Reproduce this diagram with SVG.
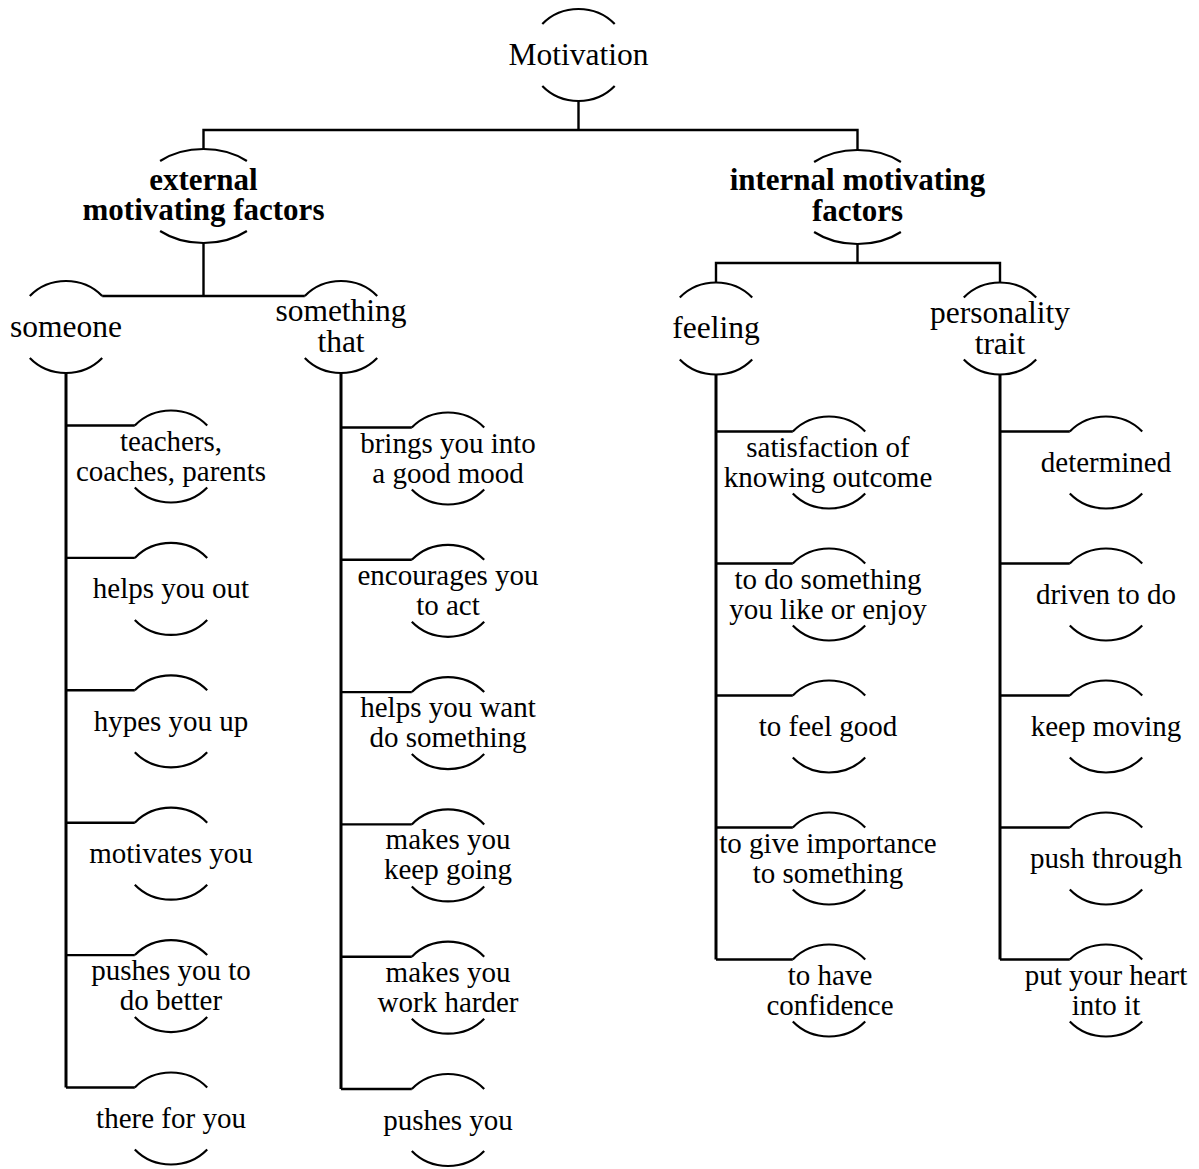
<svg xmlns="http://www.w3.org/2000/svg" width="1199" height="1169" viewBox="0 0 1199 1169">
<style>
.arc{fill:none;stroke:#000;stroke-width:2.2}
.ln{fill:none;stroke:#000;stroke-width:2.4}
.tr{fill:none;stroke:#000;stroke-width:3}
text{font-family:"Liberation Serif","Times New Roman",serif;fill:#000;text-anchor:middle}
.big{font-size:31.5px}
.bold{font-size:31px;font-weight:bold}
.leaf{font-size:29px}
</style>
<rect width="1199" height="1169" fill="#fff"/>
<g id="connectors">
<path class="ln" d="M578.5 101 V130 M203.5 149 V130 H857.5 V151"/>
<path class="ln" d="M203.5 243 V296 M102.2 296 H304.8"/>
<path class="ln" d="M857.5 244 V263 M716 282.5 V263 H1000 V282.5"/>
<path class="tr" d="M66 373 V1087.5 M341 373 V1089 M716 374.5 V959.5 M1000 374.5 V959.5"/>
<path class="ln" d="M66 425.5 H134.8 M66 557.9 H134.8 M66 690.3 H134.8 M66 822.7 H134.8 M66 955.1 H134.8 M66 1087.5 H134.8"/>
<path class="ln" d="M341 427.5 H411.8 M341 559.8 H411.8 M341 692.1 H411.8 M341 824.4 H411.8 M341 956.7 H411.8 M341 1089 H411.8"/>
<path class="ln" d="M716 431.5 H792.8 M716 563.5 H792.8 M716 695.5 H792.8 M716 827.5 H792.8 M716 959.5 H792.8"/>
<path class="ln" d="M1000 431.5 H1069.8 M1000 563.5 H1069.8 M1000 695.5 H1069.8 M1000 827.5 H1069.8 M1000 959.5 H1069.8"/>
</g>
<g id="n-motivation"><path class="arc" d="M542.3 24 A49 46 0 0 1 614.7 24 M542.3 86 A49 46 0 0 0 614.7 86"/><text class="big" x="578.5" y="65">Motivation</text></g>
<g id="n-external"><path class="arc" d="M160.1 161 A65 47 0 0 1 246.9 161 M160.1 231 A65 47 0 0 0 246.9 231"/><text class="bold" x="203.5" y="190">external</text><text class="bold" x="203.5" y="220">motivating factors</text></g>
<g id="n-internal"><path class="arc" d="M814.1 162 A65 47 0 0 1 900.9 162 M814.1 232 A65 47 0 0 0 900.9 232"/><text class="bold" x="857.5" y="190">internal motivating</text><text class="bold" x="857.5" y="221">factors</text></g>
<g id="n-someone"><path class="arc" d="M29.8 296 A49 46 0 0 1 102.2 296 M29.8 358 A49 46 0 0 0 102.2 358"/><text class="big" x="66" y="336.5">someone</text></g>
<g id="n-something"><path class="arc" d="M304.8 296 A49 46 0 0 1 377.2 296 M304.8 358 A49 46 0 0 0 377.2 358"/><text class="big" x="341" y="321">something</text><text class="big" x="341" y="352">that</text></g>
<g id="n-feeling"><path class="arc" d="M679.8 297.5 A49 46 0 0 1 752.2 297.5 M679.8 359.5 A49 46 0 0 0 752.2 359.5"/><text class="big" x="716" y="338">feeling</text></g>
<g id="n-personality"><path class="arc" d="M963.8 297.5 A49 46 0 0 1 1036.2 297.5 M963.8 359.5 A49 46 0 0 0 1036.2 359.5"/><text class="big" x="1000" y="322.5">personality</text><text class="big" x="1000" y="353.5">trait</text></g>

<g id="a1"><path class="arc" d="M134.8 425.5 A49 46 0 0 1 207.2 425.5 M134.8 487.5 A49 46 0 0 0 207.2 487.5"/><text class="leaf" x="171" y="450.5">teachers,</text><text class="leaf" x="171" y="480.5">coaches, parents</text></g>
<g id="a2"><path class="arc" d="M134.8 557.9 A49 46 0 0 1 207.2 557.9 M134.8 619.9 A49 46 0 0 0 207.2 619.9"/><text class="leaf" x="171" y="598.4">helps you out</text></g>
<g id="a3"><path class="arc" d="M134.8 690.3 A49 46 0 0 1 207.2 690.3 M134.8 752.3 A49 46 0 0 0 207.2 752.3"/><text class="leaf" x="171" y="730.8">hypes you up</text></g>
<g id="a4"><path class="arc" d="M134.8 822.7 A49 46 0 0 1 207.2 822.7 M134.8 884.7 A49 46 0 0 0 207.2 884.7"/><text class="leaf" x="171" y="863.2">motivates you</text></g>
<g id="a5"><path class="arc" d="M134.8 955.1 A49 46 0 0 1 207.2 955.1 M134.8 1017.1 A49 46 0 0 0 207.2 1017.1"/><text class="leaf" x="171" y="980.1">pushes you to</text><text class="leaf" x="171" y="1010.1">do better</text></g>
<g id="a6"><path class="arc" d="M134.8 1087.5 A49 46 0 0 1 207.2 1087.5 M134.8 1149.5 A49 46 0 0 0 207.2 1149.5"/><text class="leaf" x="171" y="1128">there for you</text></g>

<g id="b1"><path class="arc" d="M411.8 427.5 A49 46 0 0 1 484.2 427.5 M411.8 489.5 A49 46 0 0 0 484.2 489.5"/><text class="leaf" x="448" y="452.5">brings you into</text><text class="leaf" x="448" y="482.5">a good mood</text></g>
<g id="b2"><path class="arc" d="M411.8 559.8 A49 46 0 0 1 484.2 559.8 M411.8 621.8 A49 46 0 0 0 484.2 621.8"/><text class="leaf" x="448" y="584.8">encourages you</text><text class="leaf" x="448" y="614.8">to act</text></g>
<g id="b3"><path class="arc" d="M411.8 692.1 A49 46 0 0 1 484.2 692.1 M411.8 754.1 A49 46 0 0 0 484.2 754.1"/><text class="leaf" x="448" y="717.1">helps you want</text><text class="leaf" x="448" y="747.1">do something</text></g>
<g id="b4"><path class="arc" d="M411.8 824.4 A49 46 0 0 1 484.2 824.4 M411.8 886.4 A49 46 0 0 0 484.2 886.4"/><text class="leaf" x="448" y="849.4">makes you</text><text class="leaf" x="448" y="879.4">keep going</text></g>
<g id="b5"><path class="arc" d="M411.8 956.7 A49 46 0 0 1 484.2 956.7 M411.8 1018.7 A49 46 0 0 0 484.2 1018.7"/><text class="leaf" x="448" y="981.7">makes you</text><text class="leaf" x="448" y="1011.7">work harder</text></g>
<g id="b6"><path class="arc" d="M411.8 1089 A49 46 0 0 1 484.2 1089 M411.8 1151 A49 46 0 0 0 484.2 1151"/><text class="leaf" x="448" y="1129.5">pushes you</text></g>

<g id="c1"><path class="arc" d="M792.8 431.5 A49 46 0 0 1 865.2 431.5 M792.8 493.5 A49 46 0 0 0 865.2 493.5"/><text class="leaf" x="828" y="456.5">satisfaction of</text><text class="leaf" x="828" y="486.5">knowing outcome</text></g>
<g id="c2"><path class="arc" d="M792.8 563.5 A49 46 0 0 1 865.2 563.5 M792.8 625.5 A49 46 0 0 0 865.2 625.5"/><text class="leaf" x="828" y="588.5">to do something</text><text class="leaf" x="828" y="618.5">you like or enjoy</text></g>
<g id="c3"><path class="arc" d="M792.8 695.5 A49 46 0 0 1 865.2 695.5 M792.8 757.5 A49 46 0 0 0 865.2 757.5"/><text class="leaf" x="828" y="736">to feel good</text></g>
<g id="c4"><path class="arc" d="M792.8 827.5 A49 46 0 0 1 865.2 827.5 M792.8 889.5 A49 46 0 0 0 865.2 889.5"/><text class="leaf" x="828" y="852.5">to give importance</text><text class="leaf" x="828" y="882.5">to something</text></g>
<g id="c5"><path class="arc" d="M792.8 959.5 A49 46 0 0 1 865.2 959.5 M792.8 1021.5 A49 46 0 0 0 865.2 1021.5"/><text class="leaf" x="830" y="984.5">to have</text><text class="leaf" x="830" y="1014.5">confidence</text></g>

<g id="d1"><path class="arc" d="M1069.8 431.5 A49 46 0 0 1 1142.2 431.5 M1069.8 493.5 A49 46 0 0 0 1142.2 493.5"/><text class="leaf" x="1106" y="472">determined</text></g>
<g id="d2"><path class="arc" d="M1069.8 563.5 A49 46 0 0 1 1142.2 563.5 M1069.8 625.5 A49 46 0 0 0 1142.2 625.5"/><text class="leaf" x="1106" y="604">driven to do</text></g>
<g id="d3"><path class="arc" d="M1069.8 695.5 A49 46 0 0 1 1142.2 695.5 M1069.8 757.5 A49 46 0 0 0 1142.2 757.5"/><text class="leaf" x="1106" y="736">keep moving</text></g>
<g id="d4"><path class="arc" d="M1069.8 827.5 A49 46 0 0 1 1142.2 827.5 M1069.8 889.5 A49 46 0 0 0 1142.2 889.5"/><text class="leaf" x="1106" y="868">push through</text></g>
<g id="d5"><path class="arc" d="M1069.8 959.5 A49 46 0 0 1 1142.2 959.5 M1069.8 1021.5 A49 46 0 0 0 1142.2 1021.5"/><text class="leaf" x="1106" y="984.5">put your heart</text><text class="leaf" x="1106" y="1014.5">into it</text></g>
</svg>
